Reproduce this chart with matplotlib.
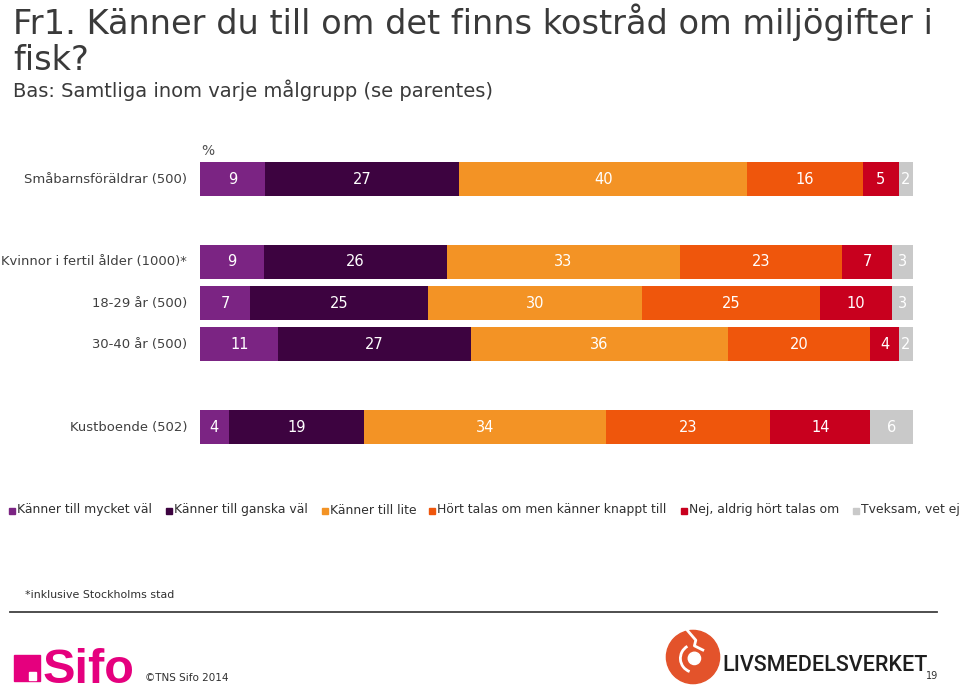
import numpy as np
import matplotlib
matplotlib.use("Agg")
import matplotlib.pyplot as plt
from matplotlib.patches import Rectangle, Circle, Arc

plt.rcParams['font.family'] = ['DejaVu Sans']

groups = ["Småbarnsföräldrar (500)", "Kvinnor i fertil ålder (1000)*",
          "18-29 år (500)", "30-40 år (500)", "Kustboende (502)"]
rows = [0, 2, 3, 4, 6]  # empty slots between groups

answers = ["Känner till mycket väl", "Känner till ganska väl", "Känner till lite",
           "Hört talas om men känner knappt till", "Nej, aldrig hört talas om",
           "Tveksam, vet ej"]
colors = ["#7b2483", "#3d0340", "#f39325", "#ef560c", "#c8001e", "#c9c9c9"]

values = np.array([
    [9, 27, 40, 16, 5, 2],
    [9, 26, 33, 23, 7, 3],
    [7, 25, 30, 25, 10, 3],
    [11, 27, 36, 20, 4, 2],
    [4, 19, 34, 23, 14, 6],
], dtype=float)

W, H = 960, 693
fig = plt.figure(figsize=(9.6, 6.93), dpi=100)

def fx(px):
    return px / W

def fy(py):
    return 1 - py / H

# bars axes, placed in pixel terms
step = (427 - 179) / 6.0
top = 179 - 0.5 * step
bot = 427 + 0.5 * step
ax = fig.add_axes([fx(200), fy(bot), fx(713), (bot - top) / H])
shares = values / values.sum(axis=1, keepdims=True) * 100
left = np.zeros(len(groups))
for j, ans in enumerate(answers):
    ax.barh(rows, shares[:, j], left=left, height=0.82, color=colors[j],
            edgecolor="none")
    for i, r in enumerate(rows):
        ax.text(left[i] + shares[i, j] / 2, r, "%d" % values[i, j],
                ha="center", va="center", color="white", fontsize=10.5)
    left += shares[:, j]
ax.set_xlim(0, 100)
ax.set_ylim(6.5, -0.5)
ax.axis("off")

for g, r in zip(groups, rows):
    fig.text(fx(187), fy(179 + r * step), g, ha="right", va="center",
             fontsize=9.45, color="#404040")
fig.text(fx(201), fy(151), "%", ha="left", va="center", fontsize=10, color="#505050")

# title
fig.text(fx(13), fy(22), "Fr1. Känner du till om det finns kostråd om miljögifter i",
         ha="left", va="center", fontsize=24.2, color="#3a3a3a")
fig.text(fx(13), fy(61), "fisk?", ha="left", va="center", fontsize=24.2, color="#3a3a3a")
fig.text(fx(13), fy(90), "Bas: Samtliga inom varje målgrupp (se parentes)",
         ha="left", va="center", fontsize=14, color="#3a3a3a")

# legend, laid out by hand
leg_x = [9, 166, 322, 429, 681, 853]
for x0, ans, c in zip(leg_x, answers, colors):
    fig.patches.append(Rectangle((fx(x0), fy(514)), fx(6), 6 / H, color=c,
                                 transform=fig.transFigure, figure=fig))
    fig.text(fx(x0 + 8), fy(510), ans, ha="left", va="center", fontsize=8.9,
             color="#303030")

fig.text(fx(25), fy(595), "*inklusive Stockholms stad", ha="left", va="center",
         fontsize=7.9, color="#303030")
fig.add_artist(plt.Line2D([fx(10), fx(937)], [fy(612), fy(612)], color="#404040",
                          lw=1.3, transform=fig.transFigure))

# Sifo logo
fig.patches.append(Rectangle((fx(14), fy(681)), fx(26), 26 / H, color="#e5007e",
                             transform=fig.transFigure, figure=fig))
fig.patches.append(Rectangle((fx(29), fy(680)), fx(7), 8 / H, color="white",
                             transform=fig.transFigure, figure=fig))
fig.text(fx(43), fy(683), "Sifo", ha="left", va="baseline", fontsize=35,
         fontweight="bold", color="#e5007e", family="Liberation Sans")
fig.text(fx(145), fy(678), "©TNS Sifo 2014", ha="left", va="center", fontsize=7.5,
         color="#303030")

# Livsmedelsverket logo
lax = fig.add_axes([fx(665), fy(685), fx(56), 56 / H])
lax.set_xlim(-1, 1)
lax.set_ylim(-1, 1)
lax.set_aspect("equal")
lax.axis("off")
lax.add_patch(Circle((0, 0), 0.95, color="#e3532b"))
lax.add_patch(Circle((0.05, -0.05), 0.22, color="white"))
lax.add_patch(Arc((0.05, -0.05), 1.0, 1.0, theta1=120, theta2=250, color="white", lw=2))
lax.plot([-0.2, 0.1, 0.05, 0.35], [0.95, 0.6, 0.4, 0.25], color="white", lw=2)
fig.text(fx(722), fy(671), "LIVSMEDELSVERKET", ha="left", va="baseline", fontsize=15.5,
         color="#1e1e1e", family="Roboto", fontweight="medium")
fig.text(fx(926), fy(676), "19", ha="left", va="center", fontsize=7, color="#303030")

fig.savefig("out.png", dpi=100, facecolor="white")
